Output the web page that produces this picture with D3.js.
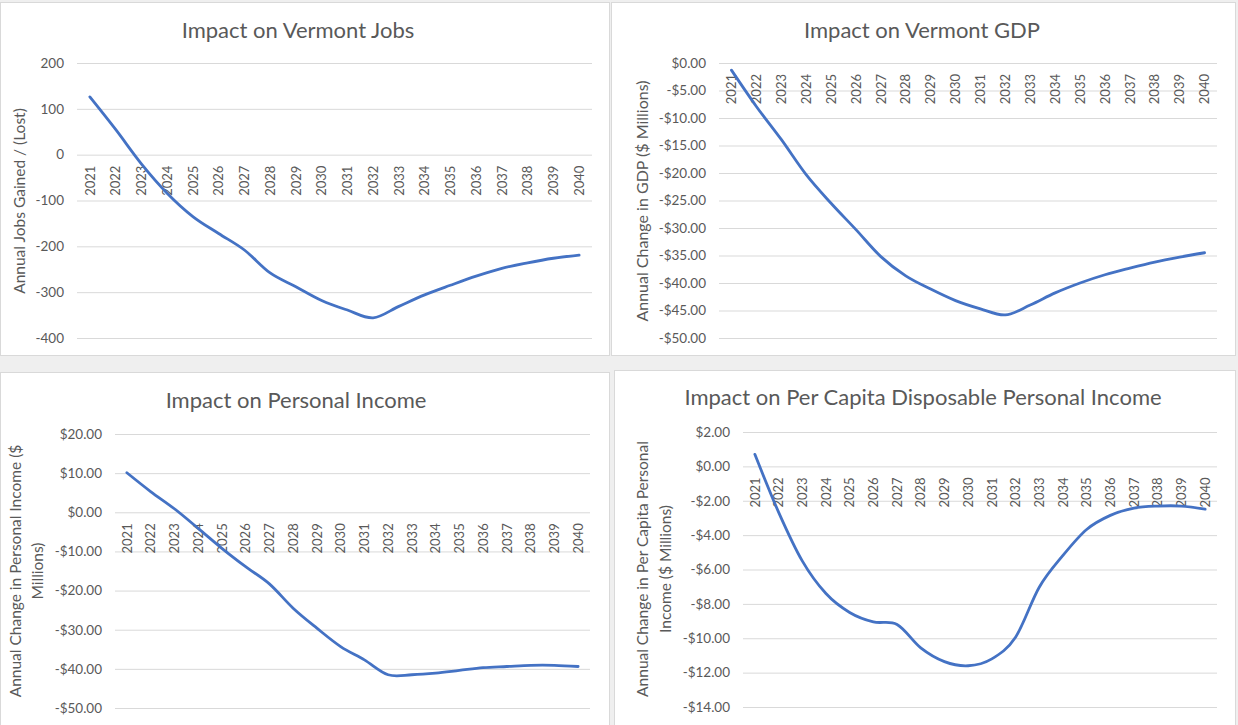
<!DOCTYPE html>
<html>
<head>
<meta charset="utf-8">
<script src="https://cdn.jsdelivr.net/npm/d3@7"></script>
<style>
  html, body { margin: 0; padding: 0; background: #efefef; }
  svg { display: block; }
</style>
</head>
<body>
<svg id="chart" width="1238" height="725"></svg>
<script>
// Years shared by all four panels
const years = ["2021","2022","2023","2024","2025","2026","2027","2028","2029","2030",
               "2031","2032","2033","2034","2035","2036","2037","2038","2039","2040"];

// Annual jobs gained / (lost)
const jobsValues = [126, 55, -20, -84, -135, -172, -208, -258, -288, -318,
                    -339, -356, -331, -306, -285, -265, -248, -236, -226, -219];
const jobsTicks = [200, 100, 0, -100, -200, -300, -400];

// Annual change in GDP ($ millions)
const gdpValues = [-1.3, -7.9, -13.9, -20.3, -25.5, -30.3, -35.2, -38.7, -41.1, -43.2,
                   -44.7, -45.8, -44.0, -41.8, -40.0, -38.5, -37.3, -36.2, -35.3, -34.5];
const gdpTicks = [0, -5, -10, -15, -20, -25, -30, -35, -40, -45, -50];

// Annual change in personal income ($ millions)
const incomeValues = [10.1, 5.3, 0.9, -4.1, -9.2, -13.9, -18.3, -24.5, -29.6, -34.3,
                      -37.7, -41.5, -41.5, -41.1, -40.4, -39.7, -39.4, -39.1, -39.1, -39.4];
const incomeTicks = [20, 10, 0, -10, -20, -30, -40, -50];

// Annual change in per capita disposable personal income
const perCapitaValues = [0.7, -2.66, -5.5, -7.4, -8.5, -9.05, -9.2, -10.56, -11.36, -11.6,
                         -11.2, -9.94, -7.03, -5.18, -3.67, -2.85, -2.43, -2.31, -2.31, -2.49];
const perCapitaTicks = [2, 0, -2, -4, -6, -8, -10, -12, -14];

const fmtInt = v => (v < 0 ? "-" : "") + Math.abs(v).toFixed(0);
const fmtDollar = v => (v < 0 ? "-$" : "$") + Math.abs(v).toFixed(2);

const TEXT = "#595959";
const GRID = "#d9d9d9";
const LINE = "#4472C4";
const FONT = "Lato, 'Open Sans', sans-serif";

const svg = d3.select("#chart");

// Panel frames and plot areas
const panels = [
  {
    frame: [0.5, 2.5, 609, 353],
    title: "Impact on Vermont Jobs", titleX: 298, titleY: 38,
    plot: { left: 77, right: 592, top: 63, bottom: 338 },
    values: jobsValues, ticks: jobsTicks, fmt: fmtInt,
    yTitle: ["Annual Jobs Gained / (Lost)"], yTitleX: [20], yTitleY: 201, yTitleSize: 15.5
  },
  {
    frame: [611.5, 2.5, 624, 353],
    title: "Impact on Vermont GDP", titleX: 922, titleY: 38,
    plot: { left: 719, right: 1217, top: 63, bottom: 338 },
    values: gdpValues, ticks: gdpTicks, fmt: fmtDollar,
    yTitle: ["Annual Change in GDP ($ Millions)"], yTitleX: [642], yTitleY: 201, yTitleSize: 16
  },
  {
    frame: [0.5, 372.5, 609, 360],
    title: "Impact on Personal Income", titleX: 296, titleY: 408,
    plot: { left: 115, right: 590, top: 434, bottom: 708 },
    values: incomeValues, ticks: incomeTicks, fmt: fmtDollar,
    yTitle: ["Annual Change in Personal Income ($", "Millions)"], yTitleX: [16, 38], yTitleY: 571, yTitleSize: 15.5
  },
  {
    frame: [614.5, 370.5, 621, 360],
    title: "Impact on Per Capita Disposable Personal Income", titleX: 923, titleY: 405,
    plot: { left: 743, right: 1217, top: 432, bottom: 707 },
    values: perCapitaValues, ticks: perCapitaTicks, fmt: fmtDollar,
    yTitle: ["Annual Change in Per Capita Personal", "Income ($ Millions)"], yTitleX: [643, 666], yTitleY: 569, yTitleSize: 15.5
  }
];

panels.forEach(p => {
  const g = svg.append("g");

  g.append("rect")
    .attr("x", p.frame[0]).attr("y", p.frame[1])
    .attr("width", p.frame[2]).attr("height", p.frame[3])
    .attr("fill", "#fff").attr("stroke", GRID).attr("stroke-width", 1);

  const x = d3.scaleBand().domain(years).range([p.plot.left, p.plot.right]);
  const y = d3.scaleLinear()
    .domain([d3.min(p.ticks), d3.max(p.ticks)])
    .range([p.plot.bottom, p.plot.top]);

  // Horizontal gridlines with value labels
  const yAxis = g.append("g")
    .attr("transform", `translate(${p.plot.left},0)`)
    .call(d3.axisLeft(y)
      .tickValues(p.ticks)
      .tickFormat(p.fmt)
      .tickSize(-(p.plot.right - p.plot.left))
      .tickPadding(13));
  yAxis.select(".domain").remove();
  yAxis.selectAll(".tick line").attr("stroke", GRID).attr("stroke-width", 1);
  yAxis.selectAll(".tick text")
    .attr("fill", TEXT).style("font-family", FONT).style("font-size", "13.5px");

  // Year labels hanging below the zero line
  const zeroY = y(0);
  g.append("g").selectAll("text")
    .data(years)
    .join("text")
    .attr("transform", d => `translate(${x(d) + x.bandwidth() / 2},${zeroY + 11}) rotate(-90)`)
    .attr("dy", "0.36em")
    .attr("text-anchor", "end")
    .attr("fill", TEXT)
    .style("font-family", FONT)
    .style("font-size", "13px")
    .text(d => d);

  // Series line
  const line = d3.line()
    .x((d, i) => x(years[i]) + x.bandwidth() / 2)
    .y(d => y(d))
    .curve(d3.curveCatmullRom.alpha(0));
  g.append("path")
    .datum(p.values)
    .attr("d", line)
    .attr("fill", "none")
    .attr("stroke", LINE)
    .attr("stroke-width", 2.8)
    .attr("stroke-linejoin", "round")
    .attr("stroke-linecap", "round");

  // Chart title
  g.append("text")
    .attr("x", p.titleX).attr("y", p.titleY)
    .attr("text-anchor", "middle")
    .attr("fill", TEXT)
    .style("font-family", FONT)
    .style("font-size", "22px")
    .text(p.title);

  // Vertical axis title (one or two lines)
  p.yTitle.forEach((t, i) => {
    g.append("text")
      .attr("transform", `translate(${p.yTitleX[i]},${p.yTitleY}) rotate(-90)`)
      .attr("dy", "0.35em")
      .attr("text-anchor", "middle")
      .attr("fill", TEXT)
      .style("font-family", FONT)
      .style("font-size", p.yTitleSize + "px")
      .text(t);
  });
});
</script>
</body>
</html>
